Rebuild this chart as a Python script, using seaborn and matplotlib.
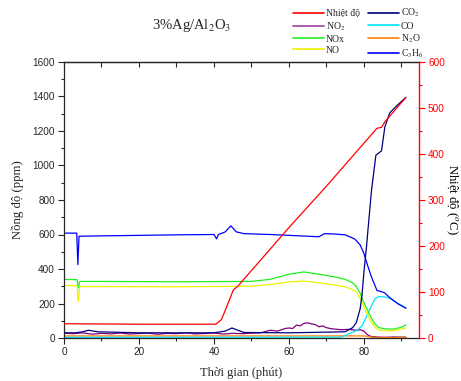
import matplotlib
matplotlib.use("Agg")
import matplotlib.pyplot as plt
from matplotlib.lines import Line2D
from matplotlib.ticker import MultipleLocator
import seaborn as sns

# ---------------- data ----------------
t_temp = [0, 20, 40.5, 42, 43.4, 45.2, 46.3, 60, 70, 83.5, 84.7, 85.6, 91.2]
temp = [31, 30, 30, 40, 68, 105, 112, 240, 330, 456, 458, 470, 523]

t_co2 = [0, 3, 5, 6.5, 9, 20, 40, 43, 44.8, 46.5, 48, 60, 75, 77, 78, 79, 79.5,
         80, 80.7, 81.1, 82, 83.2, 84.7, 85.6, 86.9, 88.7, 91.2]
co2 = [30, 30, 36, 45, 36, 30, 30, 40, 58, 44, 32, 30, 36, 60, 90, 170, 250,
       380, 530, 630, 850, 1060, 1085, 1225, 1305, 1345, 1395]

t_c3h6 = [0, 3.4, 3.7, 4.0, 4.5, 10, 20, 30, 40, 40.7, 41.2, 43, 44.5, 46, 48,
          55, 60, 65, 68, 69.5, 72, 75, 77.5, 79, 80, 81, 82, 83.5, 84.5, 85.5,
          87, 89, 91.2]
c3h6 = [608, 608, 425, 590, 590, 592, 595, 598, 600, 575, 600, 615, 650, 615, 605,
        600, 595, 590, 587, 605, 603, 598, 575, 540, 490, 420, 355, 275, 270, 262,
        232, 200, 172]

t_nox = [0, 3.5, 3.8, 4.2, 10, 30, 50, 55, 60, 64, 68, 72, 75, 77, 78, 79, 80,
         81, 82, 83, 84, 86, 88, 90, 91.2]
nox = [340, 338, 290, 328, 328, 326, 328, 340, 370, 383, 370, 355, 340, 320, 297,
       260, 205, 160, 115, 80, 60, 52, 52, 62, 76]

t_no = [0, 3.5, 3.8, 4.2, 10, 30, 50, 55, 60, 64, 68, 72, 75, 77, 78, 79, 80,
        81, 82, 83, 84, 86, 88, 90, 91.2]
no = [305, 303, 212, 298, 298, 297, 300, 310, 325, 330, 320, 308, 297, 280, 267,
      230, 180, 135, 93, 62, 46, 41, 42, 52, 58]

t_co = [0, 74, 76, 78, 79.5, 80.7, 82, 83, 84, 85.5, 87, 89, 91.2]
co = [4, 5, 25, 42, 70, 124, 185, 230, 240, 238, 230, 200, 175]

t_no2 = [0, 2.5, 5, 7.5, 10, 12.5, 15, 17.5, 20, 22.5, 25, 27.5, 30, 32.5, 35,
         37.5, 40, 42.5, 45, 47.5, 50, 52.5, 55, 57, 59, 60, 61, 62, 63, 64, 65,
         66, 67, 68, 69, 70, 71, 72, 74, 76, 78, 79, 80, 81, 82, 84, 86, 88, 90, 91.2]
no2 = [28, 25, 30, 22, 27, 24, 29, 23, 26, 28, 22, 27, 25, 30, 24, 26, 29, 23, 27,
       25, 28, 30, 45, 40, 55, 58, 55, 75, 70, 85, 88, 82, 78, 65, 70, 60, 55, 52,
       48, 50, 45, 48, 40, 18, 8, 5, 4, 6, 5, 5]

t_n2o = [0, 80, 81.5, 82.5, 91.2]
n2o = [12, 12, 8, 3, 3]

# ---------------- style ----------------
sns.set_style("ticks")
plt.rcParams["font.family"] = ["Liberation Sans", "DejaVu Sans"]
plt.rcParams["mathtext.fontset"] = "stix"
serif = ["Liberation Serif", "DejaVu Serif"]

W, H = 461, 381
fig = plt.figure(figsize=(W / 100, H / 100), dpi=100)
ax = fig.add_axes([64 / W, 1 - 338 / H, (419 - 64) / W, (338 - 62) / H])
ax2 = ax.twinx()

lw = 0.9
series = [
    (t_no2, no2, "#800080"),
    (t_n2o, n2o, "#ff8000"),
    (t_co, co, "#00e5ff"),
    (t_nox, nox, "#22ee22"),
    (t_no, no, "#f0f000"),
    (t_c3h6, c3h6, "#0000ff"),
    (t_co2, co2, "#000080"),
]
for tx, vy, c in series:
    sns.lineplot(x=tx, y=vy, ax=ax, color=c, lw=lw, estimator=None, legend=False)
sns.lineplot(x=t_temp, y=temp, ax=ax2, color="#ff0000", lw=lw, estimator=None, legend=False)

ax.set_xlim(0, 94.7)
ax.set_ylim(0, 1600)
ax2.set_ylim(0, 600)

ax.xaxis.set_major_locator(MultipleLocator(20))
ax.xaxis.set_minor_locator(MultipleLocator(10))
ax.yaxis.set_major_locator(MultipleLocator(200))
ax.yaxis.set_minor_locator(MultipleLocator(100))
ax2.yaxis.set_major_locator(MultipleLocator(100))
ax2.yaxis.set_minor_locator(MultipleLocator(50))

ax.tick_params(axis="both", which="major", direction="out", length=4, width=0.8,
               labelsize=7.2, pad=2.5)
ax.tick_params(axis="both", which="minor", direction="out", length=2.5, width=0.8)
ax2.tick_params(axis="y", which="major", direction="out", length=4, width=0.8,
                colors="#ff0000", labelsize=7.2, pad=2.5)
ax2.tick_params(axis="y", which="minor", direction="out", length=2.5, width=0.8,
                colors="#ff0000")
for s in ["top", "right", "left", "bottom"]:
    ax2.spines[s].set_visible(False)
ax2.spines["right"].set_visible(True)
ax2.spines["right"].set_color("#ff0000")
ax2.spines["right"].set_linewidth(1.0)
for s in ["top", "left", "bottom"]:
    ax.spines[s].set_visible(True)
    ax.spines[s].set_linewidth(0.9)
ax.spines["right"].set_visible(False)

top = ax.secondary_xaxis("top")
top.xaxis.set_major_locator(MultipleLocator(10))
top.tick_params(direction="in", length=3.5, width=0.8, labeltop=False)
top.spines["top"].set_linewidth(0.9)

ax.set_xlabel("Thời gian (phút)", family=serif, fontsize=9, labelpad=7)
ax.set_ylabel("Nồng độ (ppm)", family=serif, fontsize=9.2, labelpad=6)
ax2.set_ylabel(r"Nhiệt độ ($^o$C)", family=serif, fontsize=9.2, rotation=270,
               color="black", va="center", ha="center")
ax2.yaxis.set_label_coords((452 - 64) / 355, 0.5)

fig.text(192 / W, 1 - 25 / H, r"3%Ag/Al$_2$O$_3$", family=serif, fontsize=10.5,
         ha="center", va="center")

handles = [
    Line2D([], [], color="#ff0000", lw=1.2),
    Line2D([], [], color="#a040a0", lw=1.2),
    Line2D([], [], color="#22ee22", lw=1.2),
    Line2D([], [], color="#f0f000", lw=1.2),
    Line2D([], [], color="#000080", lw=1.2),
    Line2D([], [], color="#00e5ff", lw=1.2),
    Line2D([], [], color="#ff8000", lw=1.2),
    Line2D([], [], color="#0000ff", lw=1.2),
]
labels = ["Nhiệt độ", r"NO$_2$", "NOx", "NO", r"CO$_2$", "CO", r"N$_2$O", r"C$_3$H$_6$"]
fig.legend(handles, labels, ncol=2, loc="upper left",
           bbox_to_anchor=(292 / W, 1 - 6 / H), frameon=False,
           prop={"family": serif, "size": 7}, handlelength=3.2, handletextpad=0.15,
           columnspacing=0.9, labelspacing=0.22, borderpad=0.1, borderaxespad=0)

fig.savefig("out.png", dpi=100)
